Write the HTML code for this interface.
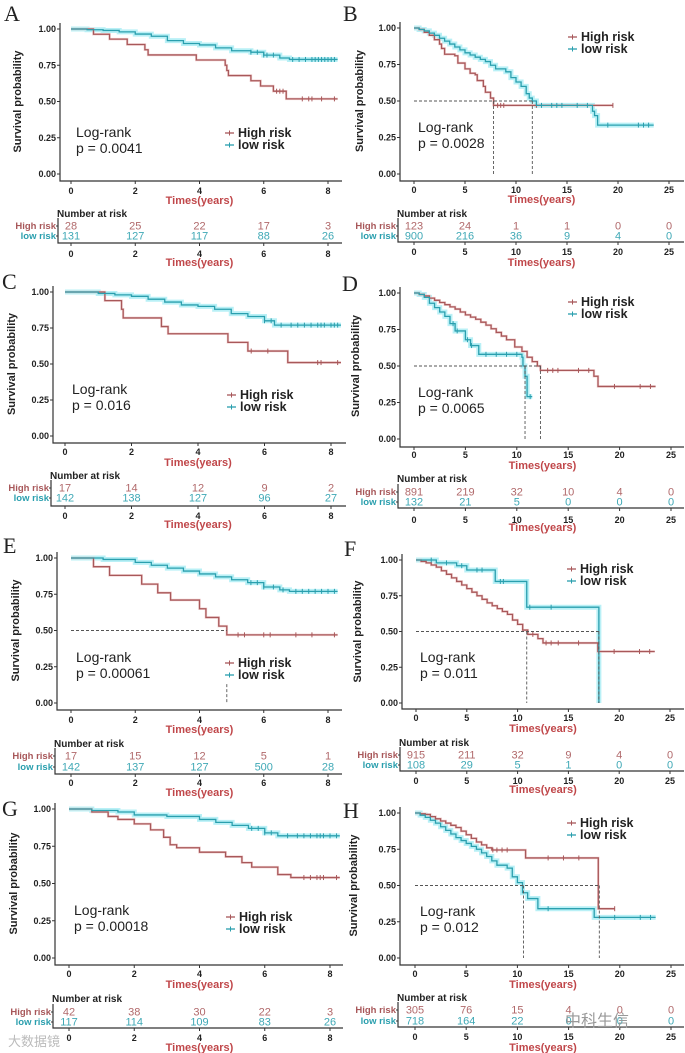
<!DOCTYPE html>
<html><head><meta charset="utf-8">
<style>
html,body{margin:0;padding:0;background:#fff;}
svg{display:block;font-family:"Liberation Sans",Arial,sans-serif;}
</style></head>
<body>
<svg id="fig" width="685" height="1053" viewBox="0 0 685 1053"></svg>
<script>
// ---- data ----
const A_high=[[0,1],[0.7,0.964],[1.2,0.93],[1.75,0.893],[2.3,0.857],[2.4,0.821],[3.9,0.786],[4.8,0.75],[4.85,0.714],[4.9,0.679],[5.6,0.643],[5.9,0.607],[6.3,0.571],[6.7,0.518],[8.3,0.518]];
const A_low=[[0,1],[0.5,0.995],[1,0.99],[1.5,0.98],[2,0.965],[2.5,0.95],[3,0.92],[3.5,0.9],[4,0.89],[4.5,0.87],[5,0.85],[5.6,0.84],[6,0.82],[6.5,0.8],[6.8,0.79],[8.3,0.79]];
const B_high=[[0,1],[0.5,0.99],[1,0.97],[1.5,0.95],[2,0.92],[2.5,0.89],[2.7,0.86],[3,0.82],[4,0.81],[4.3,0.76],[5,0.72],[5.5,0.69],[6,0.68],[6.2,0.64],[6.8,0.6],[7,0.56],[7.5,0.52],[7.8,0.47],[19.5,0.47]];
const B_low=[[0,1],[0.5,0.99],[1,0.98],[1.5,0.965],[2,0.95],[2.5,0.93],[3,0.91],[3.5,0.89],[4,0.87],[4.5,0.85],[5,0.83],[5.5,0.815],[6,0.8],[6.5,0.785],[7,0.77],[7.5,0.745],[8,0.72],[9,0.7],[9.5,0.66],[10,0.63],[10.5,0.6],[11,0.55],[11.3,0.52],[11.6,0.5],[12,0.47],[17.5,0.43],[17.7,0.4],[18,0.335],[23.5,0.335]];
const C_high=[[0,1],[1.2,0.94],[1.7,0.88],[1.75,0.82],[2.9,0.76],[3.1,0.71],[4.9,0.65],[5.5,0.59],[6.7,0.51],[8.3,0.51]];
const C_low=[[0,1],[1,0.99],[1.5,0.98],[2,0.97],[2.5,0.95],[3,0.93],[3.5,0.91],[4,0.9],[4.5,0.88],[5,0.85],[5.5,0.83],[6,0.8],[6.3,0.77],[8.3,0.77]];
const D_high=[[0,1],[0.5,0.99],[1,0.98],[1.5,0.965],[2,0.95],[2.5,0.935],[3,0.92],[3.5,0.905],[4,0.89],[4.5,0.87],[5,0.85],[5.5,0.835],[6,0.82],[6.5,0.8],[7,0.78],[7.5,0.755],[8,0.73],[8.5,0.705],[9,0.68],[9.8,0.63],[10.5,0.6],[11,0.56],[11.5,0.53],[12,0.5],[12.3,0.47],[17.5,0.43],[17.9,0.36],[23.5,0.36]];
const D_low=[[0,1],[0.5,0.99],[1,0.97],[1.5,0.93],[2,0.9],[2.5,0.87],[3,0.84],[3.5,0.79],[4,0.74],[5,0.68],[5.5,0.64],[6.3,0.58],[10.5,0.56],[10.6,0.5],[10.8,0.43],[11,0.29],[11.5,0.29]];
const E_high=[[0,1],[0.7,0.94],[1.2,0.88],[2.2,0.82],[2.7,0.76],[3.1,0.71],[4,0.65],[4.2,0.59],[4.6,0.53],[4.85,0.47],[8.3,0.47]];
const E_low=[[0,1],[1,0.99],[2,0.97],[2.5,0.95],[3,0.93],[3.5,0.91],[4,0.89],[4.5,0.87],[5,0.85],[5.5,0.83],[6,0.8],[6.5,0.78],[6.8,0.77],[8.3,0.77]];
const F_high=[[0,1],[0.5,0.99],[1,0.98],[1.5,0.965],[2,0.95],[2.5,0.925],[3,0.9],[3.5,0.875],[4,0.85],[4.5,0.825],[5,0.8],[5.5,0.775],[6,0.75],[6.5,0.725],[7,0.7],[7.5,0.68],[8,0.66],[8.5,0.64],[9,0.62],[9.5,0.58],[10,0.55],[10.5,0.51],[11,0.48],[12,0.45],[12.5,0.42],[17.9,0.36],[23.5,0.36]];
const F_low=[[0,1],[2,0.98],[4,0.96],[5,0.93],[7.8,0.85],[10.9,0.67],[18,0],[18,0]];
const G_high=[[0,1],[0.7,0.98],[1.2,0.95],[1.5,0.93],[2,0.9],[2.5,0.86],[2.9,0.81],[3.1,0.76],[3.3,0.74],[4,0.71],[4.8,0.68],[5.3,0.64],[5.6,0.61],[6.4,0.56],[6.8,0.54],[8.3,0.54]];
const G_low=[[0,1],[0.7,0.99],[1.5,0.98],[2,0.96],[3,0.95],[4,0.93],[4.5,0.91],[5,0.89],[5.5,0.87],[6,0.84],[6.4,0.82],[8.3,0.82]];
const H_high=[[0,1],[0.5,0.995],[1,0.99],[1.5,0.975],[2,0.96],[2.5,0.945],[3,0.93],[3.5,0.915],[4,0.9],[4.5,0.875],[5,0.85],[5.5,0.825],[6,0.8],[6.5,0.78],[7,0.76],[7.5,0.745],[10.8,0.69],[17.9,0.34],[19.5,0.34]];
const H_low=[[0,1],[0.5,0.985],[1,0.97],[1.5,0.95],[2,0.93],[2.5,0.905],[3,0.88],[3.5,0.855],[4,0.83],[4.5,0.81],[5,0.79],[5.5,0.77],[6,0.75],[6.5,0.725],[7,0.7],[7.5,0.67],[8,0.64],[9,0.62],[9.5,0.56],[10,0.52],[10.5,0.45],[11,0.41],[12,0.34],[17.5,0.28],[23.5,0.28]];
const medians={A:[],B:[7.8,11.6],C:[],D:[10.8,12.3],E:[4.85],F:[10.9,18],G:[],H:[10.6,18]};
const pvalues={A:"0.0041",B:"0.0028",C:"0.016",D:"0.0065",E:"0.00061",F:"0.011",G:"0.00018",H:"0.012"};
const riskHigh={A:[28,25,22,17,3],B:[123,24,1,1,0,0],C:[17,14,12,9,2],D:[891,219,32,10,4,0],E:[17,15,12,5,1],F:[915,211,32,9,4,0],G:[42,38,30,22,3],H:[305,76,15,4,0,0]};
const riskLow={A:[131,127,117,88,26],B:[900,216,36,9,4,0],C:[142,138,127,96,27],D:[132,21,5,0,0,0],E:[142,137,127,500,28],F:[108,29,5,1,0,0],G:[117,114,109,83,26],H:[718,164,22,0,0,0]};
const xTicksLeft=[0,2,4,6,8];
const xTicksRight=[0,5,10,15,20,25];
const yTicks=[0,0.25,0.5,0.75,1];
const yTickLabels=["0.00","0.25","0.50","0.75","1.00"];
const censorHigh={A:[6.4,6.5,6.6,7.2,7.4,7.5,7.8,8.2],B:[8.2,8.5,8.8,12,19.5],C:[5.6,6.1,7.6,7.7,8.2],D:[13,13.5,14,16,17,19.5,22,23],E:[5.2,5.4,6,6.2,7,7.5,8.2],F:[11.5,12.8,13.3,14,16,19.5,22,23],G:[7.2,7.4,7.6,7.7,7.8,8.2],H:[7.6,8,8.5,9,13,14.5,16,19.5]};
const censorLow={A:[5.6,5.8,6,6.1,6.3,6.9,7.1,7.3,7.5,7.6,7.7,7.8,7.9,8,8.1,8.2],B:[12.5,13.5,14,14.5,16,17,19,22,22.5,23],C:[6,6.2,6.5,6.8,7,7.2,7.4,7.6,7.7,7.8,8,8.1,8.2],D:[3.8,4.2,5.2,5.6,7,8,9,10,11.3],E:[5.6,5.8,6,6.3,6.6,7,7.2,7.4,7.6,7.8,8,8.2],F:[1.5,3,4.5,6,6.5,8.3,8.6,11.2,13.3],G:[5.6,5.8,6,6.2,6.7,7,7.2,7.4,7.6,7.7,7.8,8,8.2],H:[13,19.5,22,23]};
const curves={A:[A_high,A_low],B:[B_high,B_low],C:[C_high,C_low],D:[D_high,D_low],E:[E_high,E_low],F:[F_high,F_low],G:[G_high,G_low],H:[H_high,H_low]};

// ---- layout (pixels) ----
const panels=[
 {id:"A",lx:4,ly:21,ax:60,t0x:71,tmx:328,tm:8,y1:29,y0:174,axY:181,tkY:191,ttY:200,narY:213,r1:226,r2:236,lnY:243,tk2Y:254,tt2Y:262,lrX:76,lrY:137,lgX:238,lgY:137,ytX:18,right:342},
 {id:"B",lx:343,ly:21,ax:400,t0x:414,tmx:669,tm:25,y1:28,y0:174,axY:181,tkY:190,ttY:199,narY:213,r1:226,r2:236,lnY:242,tk2Y:252,tt2Y:262,lrX:418,lrY:132,lgX:581,lgY:41,ytX:360,right:684},
 {id:"C",lx:2,ly:289,ax:53,t0x:65,tmx:331,tm:8,y1:292,y0:436,axY:443,tkY:452,ttY:462,narY:475,r1:488,r2:498,lnY:506,tk2Y:516,tt2Y:524,lrX:72,lrY:394,lgX:240,lgY:399,ytX:12,right:346},
 {id:"D",lx:342,ly:291,ax:400,t0x:414,tmx:671,tm:25,y1:293,y0:439,axY:447,tkY:455,ttY:465,narY:478,r1:492,r2:502,lnY:508,tk2Y:520,tt2Y:527,lrX:418,lrY:397,lgX:581,lgY:306,ytX:356,right:684},
 {id:"E",lx:3,ly:553,ax:57,t0x:71,tmx:328,tm:8,y1:558,y0:703,axY:710,tkY:720,ttY:729,narY:743,r1:756,r2:767,lnY:774,tk2Y:783,tt2Y:792,lrX:76,lrY:662,lgX:238,lgY:667,ytX:16,right:342},
 {id:"F",lx:344,ly:556,ax:402,t0x:416,tmx:670,tm:25,y1:560,y0:703,axY:709,tkY:718,ttY:728,narY:742,r1:755,r2:765,lnY:771,tk2Y:781,tt2Y:789,lrX:420,lrY:662,lgX:580,lgY:573,ytX:358,right:684},
 {id:"G",lx:2,ly:816,ax:55,t0x:69,tmx:330,tm:8,y1:809,y0:958,axY:965,tkY:974,ttY:984,narY:998,r1:1012,r2:1022,lnY:1028,tk2Y:1038,tt2Y:1047,lrX:74,lrY:915,lgX:239,lgY:921,ytX:14,right:343},
 {id:"H",lx:343,ly:818,ax:400,t0x:415,tmx:671,tm:25,y1:813,y0:958,axY:965,tkY:974,ttY:984,narY:997,r1:1010,r2:1021,lnY:1027,tk2Y:1037,tt2Y:1047,lrX:420,lrY:916,lgX:580,lgY:827,ytX:354,right:684}
];
const HI="#a8585a", LO="#2a9fae", HIc="#f0c8c8", LOc="#a8ecf4", RED="#c0474a";
const NS="http://www.w3.org/2000/svg";
const svg=document.getElementById("fig");
function mk(tag,attrs,parent,txt){const e=document.createElementNS(NS,tag);for(const k in attrs)e.setAttribute(k,attrs[k]);if(txt!==undefined)e.textContent=txt;(parent||svg).appendChild(e);return e;}

panels.forEach(p=>{
  const g=mk("g",{});
  
  
  const X=t=>p.t0x+(p.tmx-p.t0x)*t/p.tm;
  const Y=s=>p.y0-(p.y0-p.y1)*s;
  const ticks=p.tm===8?xTicksLeft:xTicksRight;
  const lt=mk("text",{x:p.lx,y:p.ly,"font-family":"Liberation Serif,serif","font-size":22,fill:"#222"},g,p.id);
  
  
  const ax=mk("path",{d:`M${p.ax},${p.y1-6}V${p.axY}H${p.right}`,stroke:"#333","stroke-width":1.2,fill:"none"},g);
  
  
  yTicks.forEach((v,i)=>{
    mk("line",{x1:p.ax-3,x2:p.ax,y1:Y(v),y2:Y(v),stroke:"#333"},g);
    const t=mk("text",{x:p.ax-4,y:Y(v)+3,"text-anchor":"end","font-size":9,"font-weight":"bold",fill:"#222"},g,yTickLabels[i]);
    
    
  });
  ticks.forEach(v=>{
    mk("line",{x1:X(v),x2:X(v),y1:p.axY,y2:p.axY+3,stroke:"#333"},g);
    const t=mk("text",{x:X(v),y:p.tkY+3,"text-anchor":"middle","font-size":9,"font-weight":"bold",fill:"#222"},g,v);
    
    
    mk("line",{x1:X(v),x2:X(v),y1:p.lnY,y2:p.lnY+3,stroke:"#333"},g);
    const t2=mk("text",{x:X(v),y:p.tk2Y+3,"text-anchor":"middle","font-size":9,"font-weight":"bold",fill:"#222"},g,v);
    
    
  });
  const yt=mk("text",{x:p.ytX,y:(p.y0+p.y1)/2,transform:`rotate(-90 ${p.ytX} ${(p.y0+p.y1)/2})`,"text-anchor":"middle","dominant-baseline":"middle","font-size":11,"font-weight":"bold",fill:"#222"},g,"Survival probability");
  
  
  const xmid=(p.t0x+p.tmx)/2;
  const xt=mk("text",{x:xmid,y:p.ttY+4,"text-anchor":"middle","font-size":11,"font-weight":"bold",fill:RED},g,"Times(years)");
  
  
  const [hi,lo]=curves[p.id];
  function stepPath(arr){let d=`M${X(arr[0][0])},${Y(arr[0][1])}`;for(let i=1;i<arr.length;i++){d+=`H${X(arr[i][0])}V${Y(arr[i][1])}`;}return d;}
  function valAt(arr,t){let s=arr[0][1];for(const q of arr){if(q[0]<=t)s=q[1];}return s;}
  [[lo,LOc,5],[hi,HIc,2.5]].forEach(([arr,c,w])=>mk("path",{d:stepPath(arr),stroke:c,"stroke-width":w,fill:"none",opacity:0.8},g));
  [[hi,HI,"high-risk-curve",censorHigh[p.id]],[lo,LO,"low-risk-curve",censorLow[p.id]]].forEach(([arr,c,nm,cens])=>{
    const pa=mk("path",{d:stepPath(arr),stroke:c,"stroke-width":1.3,fill:"none"},g);
    
    
    cens.forEach(t=>{const y=Y(valAt(arr,t));mk("line",{x1:X(t),x2:X(t),y1:y-2.5,y2:y+2.5,stroke:c,"stroke-width":1},g);});
  });
  const md=medians[p.id];
  if(md.length){
    const mx=Math.max(...md);
    const hl=mk("line",{x1:X(0),x2:X(mx),y1:Y(0.5),y2:Y(0.5),stroke:"#555","stroke-dasharray":"3,2","stroke-width":0.9},g);
    
    
    md.forEach(m=>mk("line",{x1:X(m),x2:X(m),y1:Y(p.id==="E"?0.13:0.5),y2:Y(0),stroke:"#555","stroke-dasharray":"3,2","stroke-width":0.9},g));
  }
  const lr=mk("text",{x:p.lrX,y:p.lrY,"font-size":14,fill:"#222"},g);
  
  
  mk("tspan",{x:p.lrX,dy:0},lr,"Log-rank");
  mk("tspan",{x:p.lrX,dy:16},lr,"p = "+pvalues[p.id]);
  [["High risk",HI,0],["low risk",LO,12]].forEach(([lab,c,dy])=>{
    const ly=p.lgY+dy;
    mk("line",{x1:p.lgX-13,x2:p.lgX-4,y1:ly-4,y2:ly-4,stroke:c,"stroke-width":1.3},g);
    mk("line",{x1:p.lgX-8.5,x2:p.lgX-8.5,y1:ly-6.5,y2:ly-1.5,stroke:c,"stroke-width":1},g);
    const t=mk("text",{x:p.lgX,y:ly,"font-size":12.5,"font-weight":"bold",fill:"#222"},g,lab);
    
    
  });
  const nar=mk("text",{x:p.ax-3,y:p.narY+4,"font-size":10,"font-weight":"bold",fill:"#222"},g,"Number at risk");
  
  
  mk("path",{d:`M${p.ax-2},${p.r1-8}V${p.lnY}H${p.right}`,stroke:"#333","stroke-width":1.2,fill:"none"},g);
  [["High risk",HI,p.r1,riskHigh[p.id]],["low risk",LO,p.r2,riskLow[p.id]]].forEach(([lab,c,y,vals])=>{
    const t=mk("text",{x:p.ax-4,y:y+3,"text-anchor":"end","font-size":9.5,"font-weight":"bold",fill:c},g,lab);
    
    
    mk("line",{x1:p.ax-4,x2:p.ax-2,y1:y,y2:y,stroke:"#333"},g);
    vals.forEach((v,i)=>{
      const n=mk("text",{x:X(ticks[i]),y:y+3.5,"text-anchor":"middle","font-size":11,fill:c,opacity:0.9},g,v);
      
      
    });
  });
  const xt2=mk("text",{x:xmid,y:p.tt2Y+4,"text-anchor":"middle","font-size":11,"font-weight":"bold",fill:RED},g,"Times(years)");
  
  
});
const w1=mk("text",{x:8,y:1046,"font-size":13,fill:"#bbb","font-family":"Liberation Sans,Noto Sans CJK SC,sans-serif"},svg,"大数据镜");


const w2=mk("text",{x:565,y:1026,"font-size":16,fill:"#999","font-family":"Liberation Sans,Noto Sans CJK SC,sans-serif"},svg,"中科生信");


</script>
</body></html>
